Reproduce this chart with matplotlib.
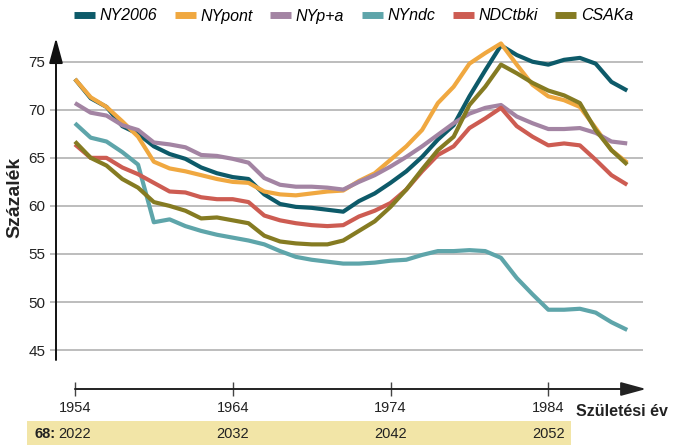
import matplotlib
matplotlib.use('Agg')
import matplotlib.pyplot as plt
from matplotlib import transforms
from matplotlib.patches import Rectangle
from matplotlib.lines import Line2D
from matplotlib.font_manager import FontProperties

# ---------------- data ----------------
years = list(range(1954, 1990))

ny2006 = [73.2, 71.2, 70.3, 68.3, 67.5, 66.2, 65.4, 64.9, 64.0, 63.4, 63.0, 62.8,
          61.2, 60.2, 59.9, 59.8, 59.6, 59.4, 60.5, 61.3, 62.4, 63.6, 65.1, 66.9,
          68.4, 71.4, 74.1, 76.7, 75.7, 75.0, 74.7, 75.2, 75.4, 74.8, 72.9, 72.0]
nypont = [73.2, 71.3, 70.3, 68.8, 67.2, 64.6, 63.9, 63.6, 63.2, 62.8, 62.5, 62.4,
          61.5, 61.2, 61.1, 61.3, 61.5, 61.6, 62.6, 63.4, 64.8, 66.2, 67.9, 70.7,
          72.4, 74.8, 75.9, 76.9, 74.7, 72.6, 71.4, 71.0, 70.3, 68.1, 65.8, 64.5]
nypa = [70.7, 69.7, 69.4, 68.4, 67.9, 66.6, 66.4, 66.1, 65.3, 65.2, 64.9, 64.5,
        62.9, 62.2, 62.0, 62.0, 61.9, 61.7, 62.5, 63.2, 64.1, 65.1, 66.2, 67.4,
        68.6, 69.6, 70.2, 70.5, 69.3, 68.6, 68.0, 68.0, 68.1, 67.6, 66.7, 66.5]
nyndc = [68.6, 67.1, 66.7, 65.6, 64.3, 58.3, 58.6, 57.9, 57.4, 57.0, 56.7, 56.4,
         56.0, 55.3, 54.7, 54.4, 54.2, 54.0, 54.0, 54.1, 54.3, 54.4, 54.9, 55.3,
         55.3, 55.4, 55.3, 54.6, 52.5, 50.8, 49.2, 49.2, 49.3, 48.9, 47.9, 47.1]
ndctbki = [66.4, 65.0, 65.0, 64.0, 63.3, 62.4, 61.5, 61.4, 60.9, 60.7, 60.7, 60.4,
           59.0, 58.5, 58.2, 58.0, 57.9, 58.0, 58.9, 59.5, 60.3, 61.7, 63.6, 65.3,
           66.2, 68.1, 69.1, 70.2, 68.3, 67.2, 66.3, 66.5, 66.3, 64.8, 63.2, 62.2]
csaka = [66.7, 65.0, 64.2, 62.8, 61.9, 60.4, 60.0, 59.5, 58.7, 58.8, 58.5, 58.2,
         56.9, 56.3, 56.1, 56.0, 56.0, 56.4, 57.4, 58.4, 59.9, 61.7, 63.8, 65.8,
         67.2, 70.5, 72.4, 74.7, 73.8, 72.8, 72.0, 71.5, 70.7, 67.9, 65.8, 64.3]

series_names = ['NY2006', 'NYpont', 'NYp+a', 'NYndc', 'NDCtbki', 'CSAKa']
series_values = [ny2006, nypont, nypa, nyndc, ndctbki, csaka]
colors = ['#0d5a69', '#f0a840', '#a384a3', '#5ea5aa', '#cd5c52', '#857b22']

yticks = [45, 50, 55, 60, 65, 70, 75]
xticks = [1954, 1964, 1974, 1984]
xtick_labels = ['1954', '1964', '1974', '1984']
age_label = '68:'
retire_labels = ['2022', '2032', '2042', '2052']
ylabel = 'Százalék'
xlabel = 'Születési év'

# ---------------- fonts ----------------
FONT = ['Liberation Sans', 'DejaVu Sans']
plt.rcParams['font.family'] = FONT

W, H = 673, 445
fig = plt.figure(figsize=(W / 100, H / 100), dpi=100)


def fx(px):
    return px / W


def fy(py):
    return 1 - py / H


TXT = '#222222'

# ---------------- main axes ----------------
ax = fig.add_axes([fx(56), fy(360), fx(643) - fx(56), fy(38) - fy(360)])
ax.set_xlim(1952.8, 1990.0)
ax.set_ylim(43.97, 77.47)
for s in ax.spines.values():
    s.set_visible(False)
ax.set_yticks(yticks)
ax.set_yticklabels([str(v) for v in yticks])
ax.yaxis.grid(True, color='#b8b8b8', lw=1.3)
ax.set_axisbelow(True)
ax.tick_params(axis='y', length=4.5, width=1.3, color='#b8b8b8', pad=3,
               labelsize=11, labelcolor=TXT)
ax.tick_params(axis='x', bottom=False, labelbottom=False)

for vals, c in zip(series_values, colors):
    ax.plot(years, vals, color=c, lw=3.0, solid_joinstyle='round',
            solid_capstyle='butt')

# y axis with arrow
ax.annotate('', xy=(0, 1), xytext=(0, 0), xycoords='axes fraction',
            arrowprops=dict(arrowstyle='-|>,head_width=0.3,head_length=1.1',
                            color='#111111', lw=1.4, shrinkA=0, shrinkB=0,
                            mutation_scale=14),
            annotation_clip=False)

# ---------------- x axis (separate) ----------------
axx = fig.add_axes([fx(56), fy(389), fx(643) - fx(56), 1e-6])
axx.set_xlim(1952.8, 1990.0)
axx.set_ylim(0, 1)
for s in axx.spines.values():
    s.set_visible(False)
axx.set_yticks([])
axx.set_xticks(xticks)
axx.set_xticklabels(xtick_labels)
axx.tick_params(axis='x', direction='inout', length=10, width=1.0,
                color='#444444', pad=4, labelsize=10.5, labelcolor=TXT)
axx.patch.set_visible(False)
axx.annotate('', xy=(1990.2, 0), xytext=(1954, 0), xycoords='data',
             arrowprops=dict(arrowstyle='-|>,head_width=0.3,head_length=1.1',
                             color='#222222', lw=1.4, shrinkA=0, shrinkB=0,
                             mutation_scale=14),
             annotation_clip=False)

# ---------------- yellow band ----------------
fig.patches.append(Rectangle((fx(27), 0), fx(571) - fx(27), fy(421),
                             transform=fig.transFigure, facecolor='#f2e5a7',
                             edgecolor='none', zorder=0))
blend = transforms.blended_transform_factory(axx.transData, fig.transFigure)
for xv, lab in zip(xticks, retire_labels):
    fig.text(xv, fy(434), lab, transform=blend, ha='center', va='center',
             fontsize=10.5, color=TXT)
fig.text(fx(56), fy(434), age_label, ha='right', va='center', fontsize=10.5,
         fontweight='bold', color=TXT)

# ---------------- labels ----------------
fig.text(fx(15), fy(197), ylabel, rotation=90, ha='center', va='center',
         fontsize=14, fontweight='bold', color=TXT)
fig.text(fx(576), fy(411), xlabel, ha='left', va='center',
         fontsize=11.5, fontweight='bold', color=TXT)

# ---------------- legend ----------------
handles = [Line2D([0], [0], color=c, lw=5, solid_capstyle='butt') for c in colors]
fig.legend(handles, series_names, loc='center left',
           bbox_to_anchor=(fx(74), fy(16)), ncol=6, frameon=False,
           prop=FontProperties(family=FONT, style='italic', size=11.5),
           handlelength=1.3, handletextpad=0.3, columnspacing=1.1,
           borderpad=0, borderaxespad=0)

fig.savefig('out.png', dpi=100)
